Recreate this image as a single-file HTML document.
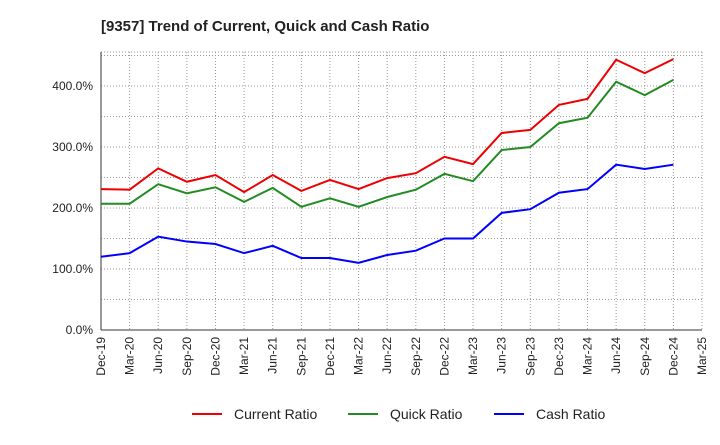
<!DOCTYPE html>
<html><head><meta charset="utf-8"><style>
body{margin:0;background:#fff;font-family:"Liberation Sans",sans-serif;}
</style></head><body>
<svg id="chart" width="720" height="440" xmlns="http://www.w3.org/2000/svg">
<text x="101" y="31" font-size="15" font-weight="bold" fill="#222">[9357]  Trend of Current, Quick and Cash Ratio</text>
<g id="grid"></g><g id="axes"></g><g id="series"></g>
<g>
<g><line x1="192" y1="414" x2="222" y2="414" stroke="#e00" stroke-width="2"/><text x="234" y="419" font-size="14" fill="#222">Current Ratio</text></g>
<g><line x1="348" y1="414" x2="378" y2="414" stroke="#228b22" stroke-width="2"/><text x="390" y="419" font-size="14" fill="#222">Quick Ratio</text></g>
<g><line x1="494" y1="414" x2="524" y2="414" stroke="#00f" stroke-width="2"/><text x="536" y="419" font-size="14" fill="#222">Cash Ratio</text></g>
</g>
</svg>
<script>
const categories=["Dec-19","Mar-20","Jun-20","Sep-20","Dec-20","Mar-21","Jun-21","Sep-21","Dec-21","Mar-22","Jun-22","Sep-22","Dec-22","Mar-23","Jun-23","Sep-23","Dec-23","Mar-24","Jun-24","Sep-24","Dec-24","Mar-25"];
const currentRatio=[231,230,265,243,254,226,254,228,246,231,249,257,284,272,323,328,369,379,443,421,444];
const quickRatio=[207,207,239,224,234,210,233,202,216,202,218,230,256,244,295,300,339,348,407,385,410];
const cashRatio=[120,126,153,145,141,126,138,118,118,110,123,130,150,150,192,198,225,231,271,264,271];
const yTicks=[0,100,200,300,400];
const L=101,R=702,T=52,B=330;
const xs=i=>L+i*(R-L)/(categories.length-1);
const ys=v=>B-v*0.61;
const NS="http://www.w3.org/2000/svg";
function mk(t,a,p){const e=document.createElementNS(NS,t);for(const k in a)e.setAttribute(k,a[k]);p.appendChild(e);return e;}
const grid=document.getElementById('grid'),axes=document.getElementById('axes'),ser=document.getElementById('series');
categories.forEach((c,i)=>{
 const x=xs(i);
 const g=mk('line',{x1:x,y1:T,x2:x,y2:B,stroke:'#999','stroke-dasharray':'1,2','stroke-width':1},grid);
 
 
 const t=mk('text',{x:0,y:0,'font-size':12,fill:'#222','text-anchor':'end',transform:`translate(${x+4},${B+7}) rotate(-90)`},axes);
 t.textContent=c;
 
 
});
for(let v=0;v<=450;v+=50){
 const g=mk('line',{x1:L,y1:ys(v),x2:R,y2:ys(v),stroke:'#999','stroke-dasharray':'1,2','stroke-width':1},grid);
 
 
}
mk('line',{x1:R,y1:T,x2:R,y2:B,stroke:'#999','stroke-dasharray':'1,2'},grid);
mk('line',{x1:L,y1:T,x2:R,y2:T,stroke:'#999','stroke-dasharray':'1,2'},grid);
yTicks.forEach(v=>{
 const t=mk('text',{x:L-8,y:ys(v)+4,'font-size':12,fill:'#222','text-anchor':'end'},axes);
 t.textContent=v.toFixed(1)+'%';
 
 
});
const ax=mk('line',{x1:L,y1:T,x2:L,y2:B,stroke:'#333'},axes);


const bx=mk('line',{x1:L,y1:B,x2:R,y2:B,stroke:'#333'},axes);


function line(data,color,name){
 const p=mk('polyline',{points:data.map((v,i)=>xs(i)+','+ys(v)).join(' '),fill:'none',stroke:color,'stroke-width':2},ser);
 
 
}
line(currentRatio,'#e00','current-ratio-line');
line(quickRatio,'#228b22','quick-ratio-line');
line(cashRatio,'#00f','cash-ratio-line');
</script>
</body></html>
